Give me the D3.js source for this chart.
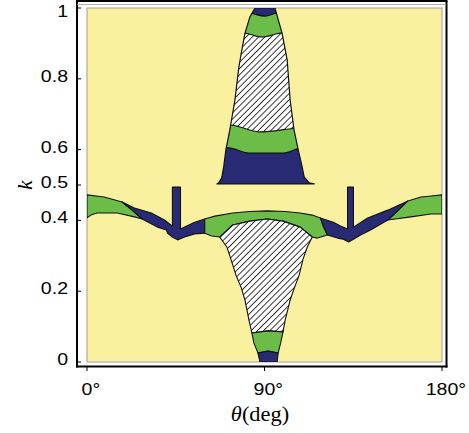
<!DOCTYPE html>
<html><head><meta charset="utf-8">
<script src="https://cdn.jsdelivr.net/npm/d3@7"></script>
<style>body{margin:0;background:#fff}svg{display:block}</style>
</head><body>
<svg id="chart" width="469" height="433"></svg>
<script>
// ---- data (theta in degrees, k) ----
const xTicks = [0, 90, 180];
const xTickLabels = ["0", "90", "180"];
const yTicks = [0, 0.2, 0.4, 0.5, 0.6, 0.8, 1];
const yTickLabels = ["0", "0.2", "0.4", "0.5", "0.6", "0.8", "1"];

// upper cone (k > 0.5)
const coneLeft = [[65.8,0.503],[66.8,0.506],[68.3,0.520],[69.3,0.551],[70.4,0.599],[72.4,0.655],[75.0,0.740],[77.0,0.833],[78.5,0.881],[80.1,0.929],[82.6,0.975],[85.2,1.0]];
const coneRight = [[95.3,1.0],[98.9,0.929],[101.5,0.853],[103.0,0.740],[105.0,0.655],[107.1,0.599],[109.1,0.551],[110.1,0.523],[112.7,0.506],[115.2,0.503]];
const coneGreenLow = [[62,0.607],[71.9,0.605],[82.6,0.590],[99,0.590],[109.1,0.605],[118,0.607]];
const coneHatchLow = [[64,0.671],[73.4,0.669],[87.7,0.650],[107,0.661],[117,0.663]];
const coneHatchHigh = [[74,0.931],[80.1,0.929],[88.7,0.918],[97.9,0.929],[104,0.931]];
const coneNavyTop = [[75,0.988],[83,0.985],[90.3,0.977],[96,0.986],[103,0.990]];

// lower band (k < 0.5)
const leftGreen = [[0,0.472],[8.7,0.466],[17.8,0.452],[22.9,0.429],[28.0,0.404],[24.0,0.410],[15.3,0.421],[5.1,0.421],[2.0,0.415],[0,0.407]];
const leftNavy = [[17.8,0.452],[24.0,0.435],[32.6,0.421],[39.3,0.401],[43.3,0.384],[43.3,0.494],[47.4,0.494],[47.4,0.376],[54.6,0.395],[59.7,0.404],[59.7,0.364],[54.6,0.362],[49.5,0.353],[45.9,0.345],[43.3,0.353],[40.8,0.364],[40.3,0.373],[35.7,0.381],[28.0,0.404],[22.9,0.429]];
const centralGreen = [[59.7,0.404],[64.8,0.412],[73.9,0.421],[82.6,0.425],[91.3,0.427],[100.5,0.425],[108.1,0.421],[114.2,0.415],[118.3,0.407],[119.8,0.384],[121.9,0.359],[116.8,0.350],[114.2,0.353],[108.1,0.381],[99.4,0.398],[91.3,0.404],[82.6,0.398],[73.9,0.387],[67.3,0.353],[63.2,0.356],[59.7,0.364]];
const valleyHatch = [[67.3,0.353],[73.9,0.387],[82.6,0.398],[91.3,0.404],[99.4,0.398],[108.1,0.381],[114.2,0.353],[111.7,0.325],[109.5,0.290],[107.6,0.246],[105.2,0.210],[103.0,0.175],[100.5,0.119],[99.4,0.085],[91.8,0.088],[83.6,0.082],[82.1,0.119],[80.1,0.175],[78.2,0.210],[75.5,0.246],[73.0,0.290],[70.9,0.325]];
const bottomGreen = [[83.6,0.082],[91.8,0.088],[99.4,0.085],[98.2,0.054],[96.9,0.025],[91.8,0.031],[86.7,0.025],[84.6,0.054]];
const navyTip = [[86.7,0.025],[91.8,0.031],[96.9,0.025],[96.4,0],[87.7,0]];
const rightNavy = [[118.3,0.407],[124.9,0.395],[128.5,0.384],[132.1,0.376],[132.1,0.494],[135.1,0.494],[135.1,0.381],[142.3,0.407],[152.5,0.429],[162.7,0.455],[156.5,0.421],[152.5,0.401],[143.8,0.373],[138.7,0.359],[135.1,0.347],[132.6,0.339],[130.0,0.347],[127.0,0.350],[121.9,0.359],[119.8,0.384]];
const rightGreen = [[162.7,0.455],[169.3,0.466],[174.4,0.469],[180,0.472],[180,0.418],[174.4,0.418],[164.2,0.410],[152.5,0.401],[156.5,0.421]];

// ---- styles ----
const YELLOW = "#faf1a0", GREEN = "#6cbd48", NAVY = "#282a74", EDGE = "#111";

const svg = d3.select("#chart");
const x = d3.scaleLinear().domain([0, 180]).range([87, 442]);
const y = d3.scaleLinear().domain([0, 1]).range([362, 8]);

const defs = svg.append("defs");
const pat = defs.append("pattern").attr("id", "hatch").attr("patternUnits", "userSpaceOnUse")
  .attr("width", 4.4).attr("height", 8).attr("patternTransform", "rotate(45)");
pat.append("rect").attr("width", 4.4).attr("height", 8).attr("fill", "#fff");
pat.append("line").attr("x1", 2.2).attr("x2", 2.2).attr("y1", 0).attr("y2", 8)
  .attr("stroke", "#222").attr("stroke-width", 0.9);

defs.append("clipPath").attr("id", "plotClip").append("rect")
  .attr("x", x(0)).attr("y", y(1)).attr("width", x(180) - x(0)).attr("height", y(0) - y(1));

const lin = d3.line().x(d => x(d[0])).y(d => y(d[1]));
const smooth = d3.line().x(d => x(d[0])).y(d => y(d[1])).curve(d3.curveMonotoneX);
const poly = pts => lin(pts) + "Z";
const above = pts => smooth(pts) + `L${x(pts[pts.length-1][0])},${y(1.2)}L${x(pts[0][0])},${y(1.2)}Z`;

// background
svg.append("rect").attr("x", x(0)).attr("y", y(1)).attr("width", x(180) - x(0)).attr("height", y(0) - y(1))
  .attr("fill", YELLOW).attr("stroke", "#8a8a8a").attr("stroke-width", 0.8);

const plot = svg.append("g").attr("clip-path", "url(#plotClip)");

// lower band polygons
const lowerShapes = [
  [leftGreen, GREEN], [leftNavy, NAVY], [centralGreen, GREEN], [valleyHatch, "url(#hatch)"],
  [bottomGreen, GREEN], [navyTip, NAVY], [rightNavy, NAVY], [rightGreen, GREEN]
];
plot.selectAll("path.low").data(lowerShapes).join("path").attr("class", "low")
  .attr("d", d => poly(d[0])).attr("fill", d => d[1])
  .attr("stroke", EDGE).attr("stroke-width", 1.1).attr("stroke-linejoin", "round");

// upper cone
const coneOutline = coneLeft.concat(coneRight);
defs.append("clipPath").attr("id", "coneClip").append("path").attr("d", poly(coneOutline));
const cone = plot.append("g").attr("clip-path", "url(#coneClip)");
cone.append("path").attr("d", poly(coneOutline)).attr("fill", NAVY);
cone.append("path").attr("d", above(coneGreenLow)).attr("fill", GREEN);
cone.append("path").attr("d", above(coneHatchLow)).attr("fill", "url(#hatch)");
cone.append("path").attr("d", above(coneHatchHigh)).attr("fill", GREEN);
cone.append("path").attr("d", above(coneNavyTop)).attr("fill", NAVY);
[coneGreenLow, coneHatchLow, coneHatchHigh, coneNavyTop].forEach(l => {
  cone.append("path").attr("d", smooth(l)).attr("fill", "none").attr("stroke", EDGE).attr("stroke-width", 1.1);
});
plot.append("path").attr("d", poly(coneOutline)).attr("fill", "none")
  .attr("stroke", EDGE).attr("stroke-width", 1.2).attr("stroke-linejoin", "round");

// frame
const fL = 77, fR = 446.5, fT = 1, fB = 366.5;
const frame = svg.append("g").attr("stroke", "#000");
frame.append("line").attr("x1", fL).attr("x2", fL).attr("y1", fT).attr("y2", fB + 1).attr("stroke-width", 2);
frame.append("line").attr("x1", fR).attr("x2", fR).attr("y1", fT).attr("y2", fB + 1).attr("stroke-width", 2);
frame.append("line").attr("x1", fL - 1).attr("x2", fR + 1).attr("y1", fT).attr("y2", fT).attr("stroke-width", 2);
frame.append("line").attr("x1", fL - 1).attr("x2", fR + 1).attr("y1", fB).attr("y2", fB).attr("stroke-width", 2);
frame.append("line").attr("x1", fL).attr("x2", fR).attr("y1", 4.5).attr("y2", 4.5).attr("stroke", "#999").attr("stroke-width", 0.8);

// y ticks + labels
yTicks.forEach((t, i) => {
  svg.append("line").attr("x1", fL).attr("x2", fL + 4).attr("y1", y(t)).attr("y2", y(t))
    .attr("stroke", "#000").attr("stroke-width", 1);
  const cy = Math.max(y(t) - 3, 11);
  svg.append("text").attr("transform", `translate(68,${cy + 6}) scale(1.15,1)`)
    .attr("text-anchor", "end").attr("font-family", "Liberation Sans, Arial, sans-serif")
    .attr("font-size", 17).attr("fill", "#000").text(yTickLabels[i]);
});

// x ticks + labels (number centred on tick, degree sign trailing)
xTicks.forEach((t, i) => {
  svg.append("line").attr("x1", x(t)).attr("x2", x(t)).attr("y1", fB).attr("y2", fB + 4.5)
    .attr("stroke", "#000").attr("stroke-width", 1);
  const txt = svg.append("text").attr("font-family", "Liberation Sans, Arial, sans-serif")
    .attr("font-size", 17).attr("fill", "#000");
  const num = txt.append("tspan").text(xTickLabels[i]);
  txt.append("tspan").text("°");
  const w = num.node().getComputedTextLength();
  txt.attr("transform", `translate(${x(t) - w * 1.15 / 2},395) scale(1.15,1)`);
});

// axis titles
const xt = svg.append("text").attr("transform", "translate(260,421) scale(1.12,1)")
  .attr("text-anchor", "middle").attr("font-family", "Liberation Serif, Times New Roman, serif")
  .attr("font-size", 20).attr("fill", "#000");
xt.append("tspan").attr("font-style", "italic").text("θ");
xt.append("tspan").text("(deg)");

svg.append("text").attr("transform", "translate(32,185) rotate(-90)")
  .attr("text-anchor", "middle").attr("font-family", "Liberation Serif, Times New Roman, serif")
  .attr("font-style", "italic").attr("font-size", 21).attr("fill", "#000").text("k");
</script>
</body></html>
